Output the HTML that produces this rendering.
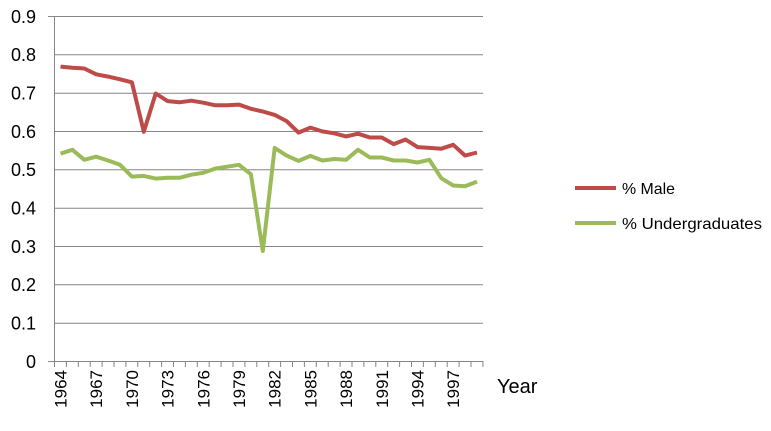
<!DOCTYPE html>
<html><head><style>body{margin:0;background:#fff}svg{display:block;font-family:"Liberation Sans",Arial,sans-serif}</style></head><body>
<svg width="771" height="431" viewBox="0 0 771 431" xmlns="http://www.w3.org/2000/svg">
<g stroke="#868686" stroke-width="1">
<line x1="54.5" y1="16.5" x2="483" y2="16.5"/>
<line x1="54.5" y1="54.8" x2="483" y2="54.8"/>
<line x1="54.5" y1="93.2" x2="483" y2="93.2"/>
<line x1="54.5" y1="131.5" x2="483" y2="131.5"/>
<line x1="54.5" y1="169.8" x2="483" y2="169.8"/>
<line x1="54.5" y1="208.2" x2="483" y2="208.2"/>
<line x1="54.5" y1="246.5" x2="483" y2="246.5"/>
<line x1="54.5" y1="284.8" x2="483" y2="284.8"/>
<line x1="54.5" y1="323.2" x2="483" y2="323.2"/>
<line x1="48" y1="361.5" x2="483" y2="361.5"/>
<line x1="54.5" y1="16.5" x2="54.5" y2="361.5"/>
<line x1="48" y1="16.5" x2="54.5" y2="16.5"/>
</g>
<path stroke="#868686" stroke-width="1" fill="none" d="M54.5 361v6M66.4 361v6M78.3 361v6M90.2 361v6M102.1 361v6M114 361v6M125.9 361v6M137.8 361v6M149.7 361v6M161.6 361v6M173.5 361v6M185.4 361v6M197.3 361v6M209.2 361v6M221.1 361v6M233 361v6M244.9 361v6M256.8 361v6M268.7 361v6M280.6 361v6M292.5 361v6M304.4 361v6M316.3 361v6M328.2 361v6M340.1 361v6M352 361v6M363.9 361v6M375.8 361v6M387.7 361v6M399.6 361v6M411.5 361v6M423.4 361v6M435.3 361v6M447.2 361v6M459.1 361v6M471 361v6M482.9 361v6"/>
<g font-size="18" fill="#000" text-anchor="end">
<text x="36" y="23">0.9</text><text x="36" y="61">0.8</text><text x="36" y="99.5">0.7</text><text x="36" y="138">0.6</text><text x="36" y="176">0.5</text><text x="36" y="214.5">0.4</text><text x="36" y="253">0.3</text><text x="36" y="291">0.2</text><text x="36" y="329.5">0.1</text><text x="36" y="368">0</text>
</g>
<g font-size="17" fill="#000" text-anchor="end">
<text transform="translate(66.5,370) rotate(-90)">1964</text>
<text transform="translate(102.2,370) rotate(-90)">1967</text>
<text transform="translate(137.9,370) rotate(-90)">1970</text>
<text transform="translate(173.6,370) rotate(-90)">1973</text>
<text transform="translate(209.3,370) rotate(-90)">1976</text>
<text transform="translate(245,370) rotate(-90)">1979</text>
<text transform="translate(280.7,370) rotate(-90)">1982</text>
<text transform="translate(316.4,370) rotate(-90)">1985</text>
<text transform="translate(352.1,370) rotate(-90)">1988</text>
<text transform="translate(387.8,370) rotate(-90)">1991</text>
<text transform="translate(423.5,370) rotate(-90)">1994</text>
<text transform="translate(459.2,370) rotate(-90)">1997</text>
</g>
<text x="497" y="393" font-size="20">Year</text>
<polyline fill="none" stroke="#be4b48" stroke-width="4" stroke-linejoin="round" points="60.5,66.6 72.4,67.8 84.3,68.5 96.2,74.3 108.1,76.6 120,79.3 131.9,82.3 143.8,131.8 155.7,93.5 167.6,101.1 179.5,102.3 191.4,100.7 203.3,102.7 215.2,105.3 227.1,105.3 239,104.6 250.9,108.8 262.8,111.5 274.7,114.9 286.6,121.1 298.5,132.6 310.4,127.6 322.3,131.4 334.2,133.3 346.1,136.4 358,133.7 369.9,137.5 381.8,137.5 393.7,144.1 405.6,139.5 417.5,147.1 429.4,147.9 441.3,148.7 453.2,144.8 465.1,155.6 477,152.5"/>
<polyline fill="none" stroke="#9bbb59" stroke-width="4" stroke-linejoin="round" points="60.5,153.6 72.4,149.8 84.3,159.8 96.2,156.7 108.1,160.5 120,164.8 131.9,176.6 143.8,175.9 155.7,178.6 167.6,177.8 179.5,177.8 191.4,174.7 203.3,172.8 215.2,168.6 227.1,166.7 239,164.8 250.9,174.3 262.8,251 274.7,147.9 286.6,155.6 298.5,160.9 310.4,155.9 322.3,160.5 334.2,159 346.1,159.8 358,149.8 369.9,157.5 381.8,157.5 393.7,160.5 405.6,160.5 417.5,162.5 429.4,159.8 441.3,178.2 453.2,185.5 465.1,186.2 477,181.6"/>
<line x1="575" y1="188" x2="616" y2="188" stroke="#be4b48" stroke-width="4"/>
<line x1="575" y1="223" x2="616" y2="223" stroke="#9bbb59" stroke-width="4"/>
<text x="622" y="194" font-size="16" textLength="53" lengthAdjust="spacingAndGlyphs">% Male</text>
<text x="622" y="229" font-size="16" textLength="140" lengthAdjust="spacingAndGlyphs">% Undergraduates</text>
</svg>
</body></html>
